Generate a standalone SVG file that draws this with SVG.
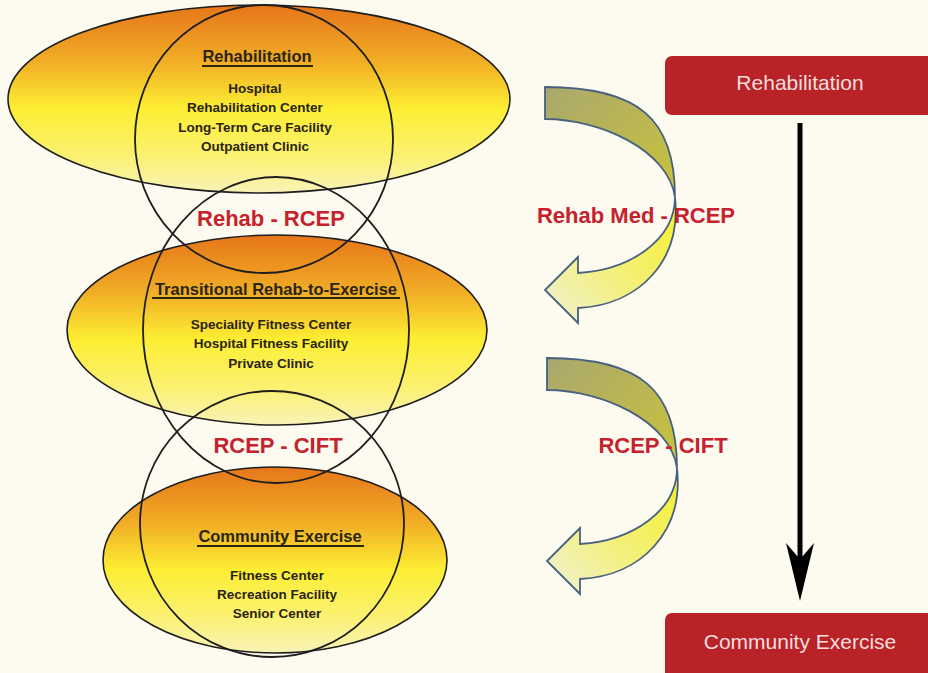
<svg xmlns="http://www.w3.org/2000/svg" width="928" height="673" viewBox="0 0 928 673">
  <defs>
    <linearGradient id="zoneFill" x1="0" y1="0" x2="0" y2="1">
      <stop offset="0" stop-color="#e6761a"/>
      <stop offset="0.3" stop-color="#f1ad25"/>
      <stop offset="0.55" stop-color="#fdee33"/>
      <stop offset="0.8" stop-color="#fbf170"/>
      <stop offset="1" stop-color="#f9f3b8"/>
    </linearGradient>
    <linearGradient id="ribbonBack" x1="0" y1="0" x2="1" y2="1">
      <stop offset="0" stop-color="#a9a86e"/>
      <stop offset="1" stop-color="#cbc33a"/>
    </linearGradient>
    <linearGradient id="ribbonFront" x1="1" y1="0" x2="0" y2="1">
      <stop offset="0" stop-color="#f6f02a"/>
      <stop offset="0.55" stop-color="#f3f07e"/>
      <stop offset="1" stop-color="#f1f1d6"/>
    </linearGradient>
    <!-- twisted curved arrow: back band from the tail, front band to the head -->
    <g id="curvedArrow">
      <path class="ribbon" fill="url(#ribbonBack)" d="M545,87 C640,87 675,120 675,197 C668,150 600,119 545,119 Z"/>
      <path class="ribbon" fill="url(#ribbonFront)" d="M675,197 C675,240 630,270 578,273 L578,257 L545,290 L578,323 L578,308 C640,305 682,260 675,197 Z"/>
    </g>
  </defs>
  <style>
    .zone { fill: url(#zoneFill); stroke: #1e1e1e; stroke-width: 1.6; }
    .scope { fill: none; stroke: #1e1e1e; stroke-width: 1.8; }
    .title { font-family: "Liberation Sans", Arial, sans-serif; font-weight: bold; font-size: 16.5px; fill: #2a2410; text-anchor: middle; }
    .item { font-family: "Liberation Sans", Arial, sans-serif; font-weight: bold; font-size: 13.5px; fill: #2a2410; text-anchor: middle; }
    .rule { stroke: #2a2410; stroke-width: 1.8; }
    .overlap { font-family: "Liberation Sans", Arial, sans-serif; font-weight: bold; font-size: 22px; fill: #c5222e; text-anchor: middle; }
    .banner { fill: #b92227; }
    .bannerText { font-family: "Liberation Sans", Arial, sans-serif; font-size: 21px; fill: #f6dede; text-anchor: middle; }
    .ribbon { stroke: #47617f; stroke-width: 1.8; stroke-linejoin: miter; }
  </style>

  <rect width="928" height="673" fill="#fdfaef"/>

  <!-- setting ellipses -->
  <g id="rehabilitation">
    <ellipse class="zone" cx="259" cy="99" rx="251" ry="94"/>
    <text class="title" x="257" y="62">Rehabilitation</text>
    <line class="rule" x1="202" y1="66" x2="313" y2="66"/>
    <text class="item" x="255" y="93">Hospital</text>
    <text class="item" x="255" y="112">Rehabilitation Center</text>
    <text class="item" x="255" y="132">Long-Term Care Facility</text>
    <text class="item" x="255" y="151">Outpatient Clinic</text>
  </g>

  <g id="transitional">
    <ellipse class="zone" cx="277" cy="330" rx="210" ry="95"/>
    <text class="title" x="276" y="295">Transitional Rehab-to-Exercise</text>
    <line class="rule" x1="152" y1="298" x2="400" y2="298"/>
    <text class="item" x="271" y="329">Speciality Fitness Center</text>
    <text class="item" x="271" y="348">Hospital Fitness Facility</text>
    <text class="item" x="271" y="368">Private Clinic</text>
  </g>

  <g id="community">
    <ellipse class="zone" cx="275" cy="560" rx="172" ry="93"/>
    <text class="title" x="280" y="542">Community Exercise</text>
    <line class="rule" x1="197" y1="546" x2="364" y2="546"/>
    <text class="item" x="277" y="580">Fitness Center</text>
    <text class="item" x="277" y="599">Recreation Facility</text>
    <text class="item" x="277" y="618">Senior Center</text>
  </g>

  <!-- professional scope rings -->
  <g id="scopes">
    <ellipse id="scope-rehab" class="scope" cx="264" cy="139" rx="129" ry="134"/>
    <ellipse id="scope-rcep" class="scope" cx="276" cy="330" rx="133" ry="153"/>
    <ellipse id="scope-cift" class="scope" cx="272" cy="524" rx="132" ry="133"/>
  </g>

  <g id="overlap-labels">
    <text class="overlap" x="271" y="226">Rehab - RCEP</text>
    <text class="overlap" x="278" y="453">RCEP - CIFT</text>
  </g>

  <!-- continuum banners -->
  <g id="banner-rehabilitation">
    <rect class="banner" x="665" y="56" width="275" height="59" rx="7"/>
    <text class="bannerText" x="800" y="90">Rehabilitation</text>
  </g>
  <g id="banner-community">
    <rect class="banner" x="665" y="613" width="275" height="70" rx="7"/>
    <text class="bannerText" x="800" y="649">Community Exercise</text>
  </g>

  <g id="connectors">
    <line x1="800" y1="123" x2="800" y2="560" stroke="#000" stroke-width="5"/>
    <polygon points="800,601 814,543 802,557 798,557 786,543" fill="#000"/>
    <use href="#curvedArrow"/>
    <use href="#curvedArrow" transform="translate(2,271)"/>
    <text class="overlap" x="636" y="223">Rehab Med - RCEP</text>
    <text class="overlap" x="663" y="453">RCEP - CIFT</text>
  </g>
</svg>
